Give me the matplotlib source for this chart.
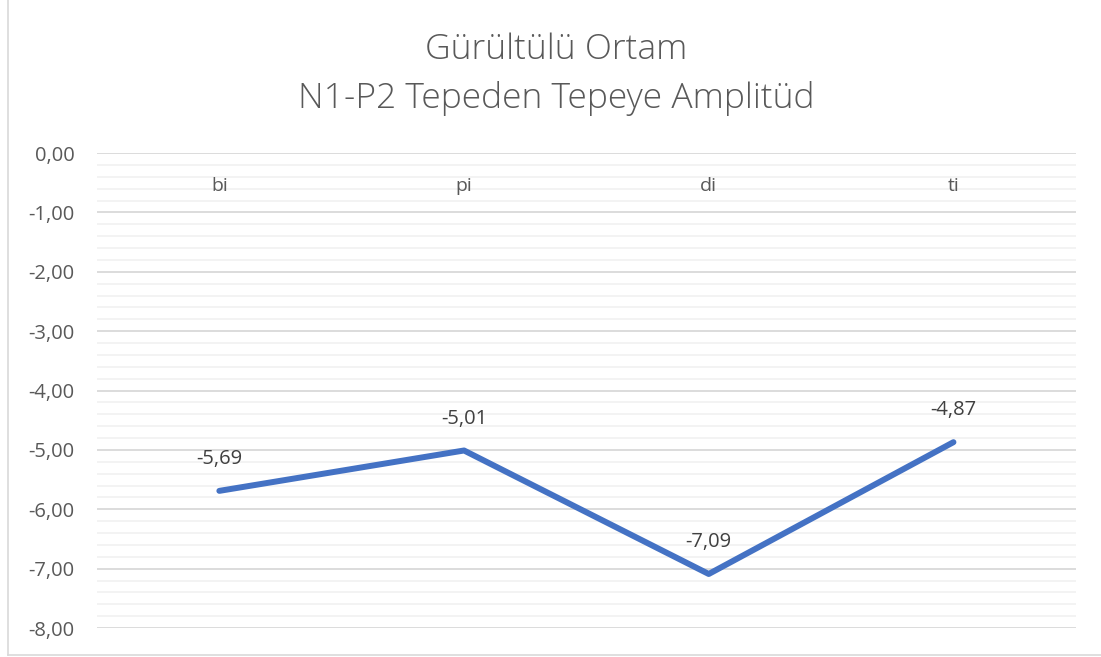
import matplotlib.pyplot as plt
from matplotlib.ticker import MultipleLocator, FuncFormatter
from matplotlib.lines import Line2D

plt.rcParams['font.family'] = ['Open Sans', 'DejaVu Sans']

# data
syllables = ['bi', 'pi', 'di', 'ti']
amplitude = [-5.69, -5.01, -7.09, -4.87]
title_lines = ['Gürültülü Ortam', 'N1-P2 Tepeden Tepeye Amplitüd']

text_color = '#595959'
line_color = '#4472C4'

fig = plt.figure(figsize=(11.01, 6.57), dpi=100)
ax = fig.add_axes([0.0881, 0.0441, 0.889, 0.723])

x = list(range(len(syllables)))
ax.plot(x, amplitude, color=line_color, linewidth=4.3, solid_capstyle='round',
        solid_joinstyle='round', zorder=3)

for xi, v in zip(x, amplitude):
    ax.annotate(f'{v:.2f}'.replace('.', ','), (xi, v), xytext=(0, 23),
                textcoords='offset points', ha='center', va='center',
                fontsize=14.5, color='#404040')

ax.set_xlim(-0.5, len(syllables) - 0.5)
ax.set_ylim(-8, 0)
ax.yaxis.set_major_locator(MultipleLocator(1))
ax.yaxis.set_minor_locator(MultipleLocator(0.2))
ax.yaxis.set_major_formatter(FuncFormatter(lambda v, p: f'{v:.2f}'.replace('.', ',')))
ax.grid(which='major', axis='y', color='#D9D9D9', linewidth=1.3)
ax.grid(which='minor', axis='y', color='#F2F2F2', linewidth=1.3)
ax.set_axisbelow(True)
ax.tick_params(axis='y', which='both', length=0, pad=16, labelsize=14.5, labelcolor=text_color)
ax.set_xticks([])
for s in ax.spines.values():
    s.set_visible(False)

# category labels sit just under the zero line
for xi, name in zip(x, syllables):
    ax.text(xi, -0.55, name, ha='center', va='center', fontsize=14, color=text_color)

fig.text(0.505, 1 - 50 / 657, title_lines[0], ha='center', va='center',
         fontsize=25.5, color=text_color, fontweight='light')
fig.text(0.505, 1 - 98 / 657, title_lines[1], ha='center', va='center',
         fontsize=25.5, color=text_color, fontweight='light')

# chart area border
fig.add_artist(Line2D([8 / 1101, 8 / 1101], [2 / 657, 1], transform=fig.transFigure,
                      color='#D9D9D9', linewidth=1.2))
fig.add_artist(Line2D([8 / 1101, 1], [2 / 657, 2 / 657], transform=fig.transFigure,
                      color='#D9D9D9', linewidth=1.2))

fig.savefig('out.png', dpi=100)
